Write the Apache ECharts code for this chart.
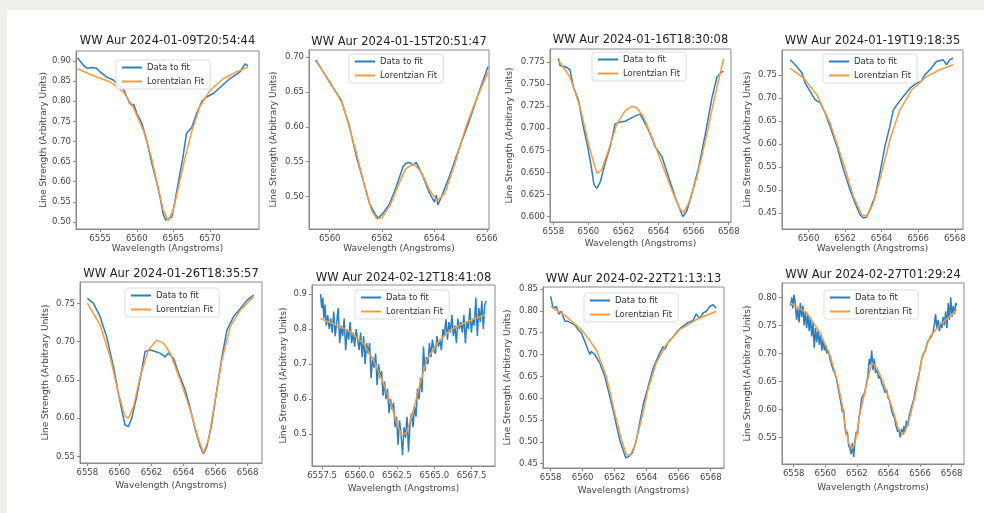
<!DOCTYPE html>
<html><head><meta charset="utf-8">
<script src="https://cdn.jsdelivr.net/npm/echarts@6/dist/echarts.min.js"></script>
<style>
html,body{margin:0;padding:0;background:#eeefe8;}
#wrap{position:relative;width:984px;height:513px;overflow:hidden;}
#panel{position:absolute;left:7px;top:10px;width:977px;height:503px;background:#fff;}
#c{position:absolute;left:0;top:0;width:984px;height:513px;}
</style>
</head><body>
<div id="wrap"><div id="panel"></div><div id="c"></div></div>
<script>
const titles = [
  'WW Aur 2024-01-09T20:54:44','WW Aur 2024-01-15T20:51:47','WW Aur 2024-01-16T18:30:08','WW Aur 2024-01-19T19:18:35',
  'WW Aur 2024-01-26T18:35:57','WW Aur 2024-02-12T18:41:08','WW Aur 2024-02-22T21:13:13','WW Aur 2024-02-27T01:29:24'
];
const seriesNames = ['Data to fit', 'Lorentzian Fit'];
const xAxisTitle = 'Wavelength (Angstroms)';
const yAxisTitle = 'Line Strength (Arbitrary Units)';

const data1 = [[6551.9,0.908],[6552.7,0.89],[6553.2,0.882],[6553.9,0.884],[6554.5,0.882],[6555.0,0.873],[6555.9,0.86],[6556.8,0.853],[6557.5,0.84],[6558.2,0.83],[6558.9,0.80],[6559.3,0.79],[6559.6,0.792],[6560.0,0.77],[6560.7,0.745],[6561.4,0.70],[6562.0,0.65],[6562.7,0.60],[6563.2,0.56],[6563.6,0.52],[6563.95,0.505],[6564.3,0.508],[6564.8,0.512],[6565.2,0.55],[6565.7,0.60],[6566.3,0.66],[6566.8,0.72],[6567.5,0.735],[6568.2,0.77],[6568.9,0.80],[6569.5,0.81],[6570.5,0.82],[6571.4,0.835],[6572.7,0.856],[6574.1,0.873],[6574.8,0.893],[6575.2,0.888]];
const fit1 = [[6551.9,0.881],[6554.0,0.864],[6556.4,0.848],[6558.2,0.823],[6559.5,0.786],[6560.9,0.728],[6562.0,0.66],[6562.9,0.587],[6563.6,0.53],[6564.3,0.504],[6565.0,0.53],[6565.7,0.587],[6566.6,0.66],[6567.5,0.724],[6568.6,0.786],[6570.0,0.827],[6571.8,0.856],[6573.6,0.873],[6575.2,0.885]];

const data2 = [[6559.47,0.696],[6560.06,0.66],[6560.44,0.638],[6560.76,0.60],[6561.02,0.557],[6561.27,0.524],[6561.52,0.49],[6561.72,0.476],[6561.84,0.469],[6562.03,0.476],[6562.29,0.49],[6562.54,0.514],[6562.80,0.543],[6562.92,0.548],[6563.05,0.549],[6563.17,0.545],[6563.30,0.549],[6563.56,0.529],[6563.81,0.505],[6564.0,0.492],[6564.07,0.502],[6564.13,0.488],[6564.32,0.505],[6564.57,0.529],[6564.96,0.571],[6565.34,0.61],[6565.72,0.652],[6566.04,0.686]];
const fit2 = [[6559.47,0.694],[6560.0,0.665],[6560.5,0.632],[6561.0,0.565],[6561.3,0.52],[6561.6,0.48],[6561.8,0.468],[6562.0,0.47],[6562.3,0.487],[6562.6,0.515],[6562.9,0.54],[6563.2,0.547],[6563.5,0.535],[6563.8,0.51],[6564.1,0.494],[6564.4,0.505],[6564.8,0.55],[6565.2,0.6],[6565.6,0.64],[6566.04,0.678]];

const data3 = [[6558.29,0.779],[6558.38,0.771],[6558.76,0.769],[6558.95,0.766],[6559.14,0.747],[6559.43,0.732],[6559.71,0.702],[6560.0,0.675],[6560.19,0.653],[6560.32,0.636],[6560.48,0.632],[6560.67,0.639],[6560.95,0.66],[6561.24,0.679],[6561.52,0.705],[6561.81,0.707],[6562.10,0.708],[6562.38,0.711],[6562.67,0.714],[6562.95,0.716],[6563.14,0.709],[6563.43,0.698],[6563.81,0.679],[6564.19,0.668],[6564.57,0.645],[6564.95,0.622],[6565.24,0.607],[6565.39,0.600],[6565.62,0.607],[6565.90,0.626],[6566.29,0.656],[6566.67,0.694],[6567.05,0.735],[6567.33,0.758],[6567.62,0.764],[6567.71,0.764]];
const fit3 = [[6558.29,0.777],[6558.95,0.758],[6559.52,0.724],[6560.10,0.675],[6560.48,0.649],[6560.76,0.653],[6561.14,0.675],[6561.62,0.705],[6562.10,0.72],[6562.48,0.725],[6562.76,0.723],[6563.14,0.713],[6563.62,0.69],[6564.19,0.66],[6564.76,0.63],[6565.24,0.608],[6565.43,0.605],[6565.71,0.615],[6566.19,0.645],[6566.76,0.694],[6567.24,0.739],[6567.71,0.779]];

const data4 = [[6559.0,0.783],[6559.36,0.768],[6559.64,0.754],[6559.82,0.732],[6560.09,0.714],[6560.36,0.696],[6560.64,0.689],[6560.91,0.667],[6561.18,0.638],[6561.55,0.595],[6561.91,0.544],[6562.27,0.50],[6562.55,0.471],[6562.82,0.446],[6563.0,0.439],[6563.18,0.441],[6563.36,0.457],[6563.64,0.486],[6563.91,0.537],[6564.18,0.595],[6564.45,0.638],[6564.64,0.674],[6564.91,0.689],[6565.18,0.703],[6565.55,0.721],[6565.91,0.732],[6566.18,0.736],[6566.36,0.75],[6566.64,0.761],[6567.0,0.779],[6567.36,0.783],[6567.55,0.772],[6567.73,0.783],[6567.91,0.786]];
const fit4 = [[6559.0,0.764],[6559.73,0.743],[6560.45,0.707],[6561.18,0.645],[6561.91,0.558],[6562.45,0.486],[6562.91,0.446],[6563.18,0.443],[6563.55,0.471],[6564.0,0.537],[6564.45,0.609],[6565.0,0.674],[6565.64,0.717],[6566.45,0.746],[6567.18,0.761],[6567.91,0.772]];

const data5 = [[6558.0,0.7565],[6558.38,0.75],[6558.79,0.733],[6559.21,0.706],[6559.63,0.667],[6559.94,0.632],[6560.21,0.604],[6560.35,0.591],[6560.56,0.589],[6560.77,0.60],[6561.08,0.628],[6561.40,0.663],[6561.60,0.687],[6561.92,0.689],[6562.23,0.687],[6562.54,0.685],[6562.85,0.68],[6563.06,0.685],[6563.38,0.678],[6563.69,0.659],[6564.10,0.637],[6564.42,0.613],[6564.73,0.585],[6565.04,0.563],[6565.25,0.553],[6565.46,0.563],[6565.77,0.593],[6566.08,0.637],[6566.40,0.68],[6566.71,0.715],[6567.13,0.733],[6567.54,0.743],[6567.96,0.754],[6568.38,0.761]];
const fit5 = [[6558.0,0.75],[6558.79,0.722],[6559.42,0.68],[6559.94,0.632],[6560.35,0.602],[6560.56,0.60],[6560.88,0.615],[6561.29,0.654],[6561.81,0.689],[6562.33,0.702],[6562.75,0.698],[6563.17,0.685],[6563.79,0.65],[6564.42,0.611],[6564.94,0.572],[6565.25,0.554],[6565.56,0.572],[6565.98,0.624],[6566.40,0.676],[6566.92,0.72],[6567.54,0.741],[6568.38,0.759]];

const data6 = [[6557.40,0.90],[6557.48,0.86],[6557.55,0.89],[6557.62,0.83],[6557.70,0.87],[6557.78,0.81],[6557.88,0.84],[6557.98,0.80],[6558.08,0.83],[6558.18,0.79],[6558.28,0.85],[6558.38,0.78],[6558.48,0.82],[6558.58,0.86],[6558.68,0.76],[6558.78,0.81],[6558.88,0.78],[6558.98,0.83],[6559.08,0.74],[6559.18,0.80],[6559.28,0.77],[6559.38,0.82],[6559.48,0.76],[6559.58,0.79],[6559.68,0.75],[6559.78,0.80],[6559.88,0.77],[6559.98,0.74],[6560.08,0.79],[6560.18,0.72],[6560.28,0.78],[6560.38,0.70],[6560.48,0.76],[6560.58,0.73],[6560.68,0.76],[6560.78,0.66],[6560.88,0.72],[6560.98,0.69],[6561.08,0.73],[6561.18,0.64],[6561.28,0.70],[6561.38,0.66],[6561.48,0.68],[6561.58,0.61],[6561.68,0.65],[6561.78,0.60],[6561.88,0.63],[6561.98,0.56],[6562.08,0.60],[6562.18,0.57],[6562.28,0.59],[6562.38,0.52],[6562.48,0.55],[6562.58,0.47],[6562.68,0.54],[6562.78,0.50],[6562.88,0.44],[6562.98,0.52],[6563.08,0.49],[6563.18,0.55],[6563.28,0.45],[6563.38,0.53],[6563.48,0.56],[6563.58,0.52],[6563.68,0.58],[6563.78,0.55],[6563.88,0.63],[6563.98,0.60],[6564.08,0.66],[6564.18,0.62],[6564.28,0.75],[6564.38,0.68],[6564.48,0.72],[6564.58,0.70],[6564.68,0.76],[6564.78,0.72],[6564.88,0.77],[6564.98,0.74],[6565.08,0.73],[6565.18,0.78],[6565.28,0.75],[6565.38,0.77],[6565.48,0.74],[6565.58,0.80],[6565.68,0.78],[6565.78,0.83],[6565.88,0.77],[6565.98,0.82],[6566.08,0.79],[6566.18,0.84],[6566.28,0.78],[6566.38,0.81],[6566.48,0.76],[6566.58,0.83],[6566.68,0.80],[6566.78,0.82],[6566.88,0.79],[6566.98,0.84],[6567.08,0.76],[6567.18,0.82],[6567.28,0.80],[6567.38,0.86],[6567.48,0.79],[6567.58,0.83],[6567.68,0.81],[6567.78,0.89],[6567.88,0.78],[6567.98,0.86],[6568.08,0.82],[6568.18,0.88],[6568.28,0.80],[6568.38,0.87],[6568.48,0.88]];
const fit6 = [[6557.39,0.83],[6558.5,0.811],[6559.39,0.792],[6560.28,0.759],[6560.94,0.711],[6561.61,0.645],[6562.17,0.578],[6562.5,0.53],[6562.83,0.497],[6563.17,0.507],[6563.61,0.569],[6564.06,0.645],[6564.5,0.711],[6565.17,0.759],[6566.06,0.797],[6567.17,0.821],[6568.39,0.84]];

const data7 = [[6558.0,0.833],[6558.15,0.806],[6558.35,0.81],[6558.52,0.792],[6558.67,0.799],[6558.88,0.776],[6559.08,0.776],[6559.29,0.772],[6559.5,0.768],[6559.71,0.757],[6559.92,0.749],[6560.13,0.73],[6560.33,0.711],[6560.45,0.700],[6560.54,0.707],[6560.75,0.70],[6561.06,0.681],[6561.38,0.65],[6561.69,0.604],[6562.0,0.556],[6562.31,0.505],[6562.52,0.482],[6562.69,0.463],[6562.90,0.467],[6563.10,0.475],[6563.31,0.497],[6563.56,0.543],[6563.81,0.59],[6564.08,0.625],[6564.40,0.668],[6564.71,0.695],[6565.02,0.718],[6565.15,0.712],[6565.33,0.728],[6565.65,0.74],[6565.96,0.755],[6566.27,0.765],[6566.58,0.773],[6566.90,0.778],[6567.10,0.793],[6567.31,0.782],[6567.52,0.795],[6567.73,0.799],[6567.94,0.81],[6568.15,0.814],[6568.35,0.806]];
const fit7 = [[6558.0,0.81],[6558.98,0.787],[6560.02,0.753],[6560.85,0.711],[6561.48,0.65],[6562.0,0.566],[6562.42,0.505],[6562.73,0.471],[6562.94,0.468],[6563.25,0.49],[6563.67,0.551],[6564.08,0.62],[6564.60,0.681],[6565.23,0.723],[6566.06,0.757],[6567.10,0.78],[6568.35,0.799]];

const data8 = [[6557.80,0.785],[6557.88,0.80],[6557.95,0.78],[6558.02,0.805],[6558.10,0.79],[6558.18,0.76],[6558.26,0.78],[6558.34,0.755],[6558.42,0.79],[6558.50,0.765],[6558.58,0.785],[6558.66,0.75],[6558.74,0.775],[6558.82,0.745],[6558.90,0.77],[6558.98,0.74],[6559.06,0.765],[6559.14,0.73],[6559.22,0.755],[6559.30,0.71],[6559.38,0.745],[6559.46,0.72],[6559.54,0.74],[6559.62,0.715],[6559.70,0.735],[6559.78,0.705],[6559.86,0.725],[6559.94,0.705],[6560.02,0.715],[6560.10,0.70],[6560.20,0.705],[6560.30,0.69],[6560.40,0.68],[6560.50,0.67],[6560.60,0.665],[6560.70,0.655],[6560.80,0.64],[6560.90,0.625],[6561.00,0.61],[6561.08,0.595],[6561.16,0.60],[6561.24,0.57],[6561.32,0.555],[6561.40,0.56],[6561.48,0.535],[6561.56,0.53],[6561.64,0.52],[6561.72,0.54],[6561.80,0.515],[6561.88,0.545],[6561.96,0.56],[6562.04,0.555],[6562.12,0.585],[6562.20,0.595],[6562.30,0.62],[6562.40,0.625],[6562.50,0.63],[6562.60,0.645],[6562.70,0.66],[6562.78,0.69],[6562.86,0.68],[6562.94,0.705],[6563.02,0.67],[6563.10,0.69],[6563.18,0.665],[6563.28,0.67],[6563.38,0.655],[6563.48,0.66],[6563.58,0.645],[6563.68,0.64],[6563.78,0.63],[6563.88,0.635],[6563.98,0.62],[6564.08,0.615],[6564.18,0.60],[6564.28,0.59],[6564.38,0.585],[6564.48,0.57],[6564.58,0.56],[6564.66,0.565],[6564.74,0.55],[6564.82,0.565],[6564.90,0.555],[6564.98,0.57],[6565.06,0.56],[6565.14,0.58],[6565.22,0.57],[6565.32,0.59],[6565.42,0.60],[6565.52,0.61],[6565.62,0.62],[6565.74,0.64],[6565.86,0.655],[6565.98,0.67],[6566.10,0.69],[6566.22,0.70],[6566.34,0.705],[6566.46,0.72],[6566.58,0.725],[6566.70,0.73],[6566.80,0.735],[6566.90,0.75],[6566.98,0.77],[6567.06,0.745],[6567.14,0.76],[6567.22,0.74],[6567.30,0.755],[6567.38,0.745],[6567.46,0.765],[6567.54,0.75],[6567.62,0.775],[6567.70,0.745],[6567.78,0.79],[6567.86,0.76],[6567.94,0.80],[6568.02,0.765],[6568.10,0.785],[6568.18,0.77],[6568.26,0.79],[6568.32,0.785]];
const fit8 = [[6557.79,0.79],[6558.84,0.772],[6559.68,0.736],[6560.32,0.695],[6560.74,0.653],[6561.05,0.611],[6561.26,0.57],[6561.47,0.54],[6561.68,0.529],[6561.89,0.54],[6562.21,0.594],[6562.63,0.647],[6562.95,0.683],[6563.26,0.674],[6563.68,0.647],[6564.21,0.605],[6564.63,0.564],[6564.95,0.555],[6565.26,0.576],[6565.68,0.623],[6566.11,0.689],[6566.63,0.73],[6567.26,0.751],[6567.89,0.766],[6568.32,0.778]];

const xTicks = [
  [6555,6560,6565,6570],[6560,6562,6564,6566],[6558,6560,6562,6564,6566,6568],[6560,6562,6564,6566,6568],
  [6558,6560,6562,6564,6566,6568],[6557.5,6560,6562.5,6565,6567.5],[6558,6560,6562,6564,6566,6568],[6558,6560,6562,6564,6566,6568]
];
const yTicks = [
  [0.50,0.55,0.60,0.65,0.70,0.75,0.80,0.85,0.90],[0.50,0.55,0.60,0.65,0.70],[0.600,0.625,0.650,0.675,0.700,0.725,0.750,0.775],[0.45,0.50,0.55,0.60,0.65,0.70,0.75],
  [0.55,0.60,0.65,0.70,0.75],[0.5,0.6,0.7,0.8,0.9],[0.45,0.50,0.55,0.60,0.65,0.70,0.75,0.80,0.85],[0.55,0.60,0.65,0.70,0.75,0.80]
];
const xLimits = [[6551.7,6576.7],[6559.21,6566.08],[6557.81,6568.13],[6558.55,6568.45],[6557.54,6568.9],[6556.83,6569.06],[6557.52,6568.83],[6557.26,6568.78]];
const yLimits = [[0.4825,0.925],[0.4536,0.710],[0.594,0.7897],[0.415,0.804],[0.5413,0.778],[0.4095,0.9257],[0.44,0.8546],[0.5024,0.8256]];
const yDecimals = [2,2,3,2,2,1,2,2];
const xDecimals = [0,0,0,0,0,1,0,0];

const allData = [data1,data2,data3,data4,data5,data6,data7,data8];
const allFits = [fit1,fit2,fit3,fit4,fit5,fit6,fit7,fit8];

// layout (pixels): grid [left, top, width, height], gaps, title y, legend position
const layout = [
  {g:[76,51,183,178], yGap:28, xGap:15, ty:41, lx:116, ly:60},
  {g:[309,50,180,179], yGap:31, xGap:15, ty:42, lx:349, ly:54},
  {g:[550,49,181,173], yGap:36, xGap:17, ty:40, lx:592, ly:52},
  {g:[782,50,181,179], yGap:30, xGap:15, ty:41, lx:823, ly:54},
  {g:[80,282,182,181], yGap:30, xGap:18, ty:274, lx:125, ly:288},
  {g:[312,285,183,181], yGap:24, xGap:18, ty:278, lx:355, ly:290},
  {g:[543,287,181,181], yGap:31, xGap:18, ty:279, lx:584, ly:293},
  {g:[782,283,182,181], yGap:30, xGap:19, ty:275, lx:824, ly:290}
];

const FONT = 'DejaVu Sans';
const BLUE = '#2a7fc0', ORANGE = '#fb9a3c', AXC = '#8a8a8a', TXC = '#474747';

const grid = [], xAxis = [], yAxis = [], series = [], legend = [], graphic = [];
layout.forEach((p, i) => {
  grid.push({left:p.g[0], top:p.g[1], width:p.g[2], height:p.g[3], show:true, borderColor:AXC, borderWidth:1, backgroundColor:'#fff'});
  xAxis.push({
    type:'value', gridIndex:i, min:xLimits[i][0], max:xLimits[i][1],
    name:xAxisTitle, nameLocation:'middle', nameGap:p.xGap,
    nameTextStyle:{fontFamily:FONT, fontSize:9, color:TXC},
    axisLine:{show:true, onZero:false, lineStyle:{color:AXC, width:1}},
    axisTick:{show:true, length:3, customValues:xTicks[i], lineStyle:{color:AXC}},
    axisLabel:{show:true, customValues:xTicks[i], fontFamily:FONT, fontSize:8.5, color:TXC, margin:5,
      formatter:(v)=>Number(v).toFixed(xDecimals[i])},
    splitLine:{show:false}
  });
  yAxis.push({
    type:'value', gridIndex:i, min:yLimits[i][0], max:yLimits[i][1],
    name:yAxisTitle, nameLocation:'middle', nameGap:p.yGap, nameRotate:90,
    nameTextStyle:{fontFamily:FONT, fontSize:9, color:TXC},
    axisLine:{show:true, onZero:false, lineStyle:{color:AXC, width:1}},
    axisTick:{show:true, length:3, customValues:yTicks[i], lineStyle:{color:AXC}},
    axisLabel:{show:true, customValues:yTicks[i], fontFamily:FONT, fontSize:8.5, color:TXC, margin:5,
      formatter:(v)=>Number(v).toFixed(yDecimals[i])},
    splitLine:{show:false}
  });
  series.push({type:'line', name:seriesNames[0], xAxisIndex:i, yAxisIndex:i, data:allData[i],
    showSymbol:false, symbol:'none', lineStyle:{color:BLUE, width:1.5}, itemStyle:{color:BLUE}, z:2});
  series.push({type:'line', name:seriesNames[1], xAxisIndex:i, yAxisIndex:i, data:allFits[i],
    showSymbol:false, symbol:'none', lineStyle:{color:ORANGE, width:1.5}, itemStyle:{color:ORANGE}, z:3});
  legend.push({
    data:[{name:seriesNames[0], icon:'rect'},{name:seriesNames[1], icon:'rect'}],
    orient:'vertical', left:p.lx, top:p.ly, itemWidth:20, itemHeight:2, itemGap:5,
    textStyle:{fontFamily:FONT, fontSize:8.5, color:'#333'},
    backgroundColor:'rgba(255,255,255,0.85)', borderColor:'#dddddd', borderWidth:1, borderRadius:3,
    padding:[3,6,3,6], selectedMode:false
  });
  graphic.push({type:'text', x:p.g[0] + p.g[2]/2, y:p.ty, silent:true,
    style:{text:titles[i], fill:'#222', font:'11.5px "DejaVu Sans"', align:'center', verticalAlign:'middle', textAlign:'center', textVerticalAlign:'middle'}});
});

const chart = echarts.init(document.getElementById('c'), null, {renderer:'canvas'});
chart.setOption({animation:false, backgroundColor:'transparent', grid, xAxis, yAxis, series, legend, graphic});
</script>
</body></html>
